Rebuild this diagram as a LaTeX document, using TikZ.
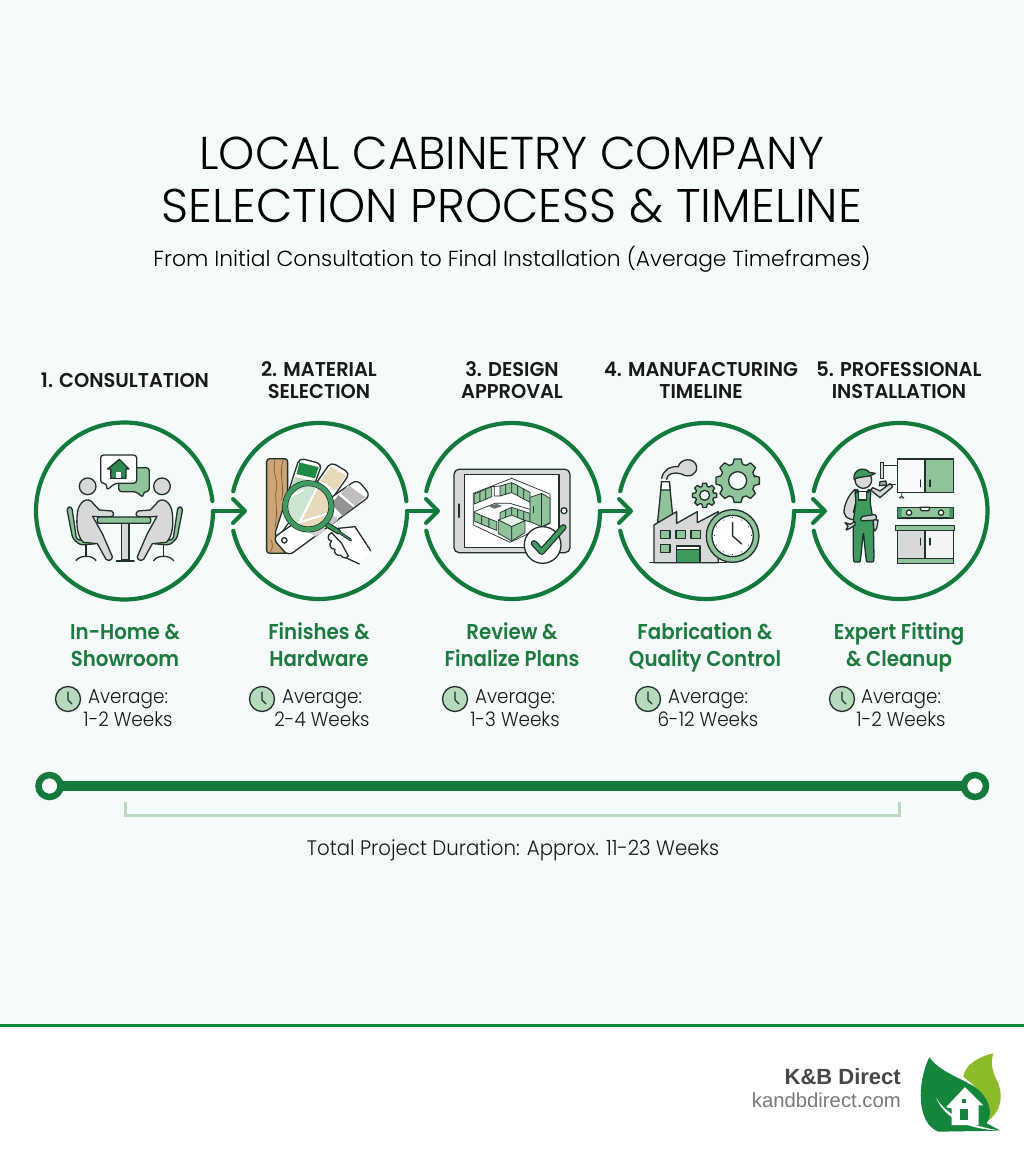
\documentclass[tikz,border=0pt]{standalone}
\usepackage{fontspec}
\usetikzlibrary{arrows.meta}
\setmainfont{Poppins}
\newfontfamily\lightf{Poppins Light}
\newfontfamily\avgf[FakeStretch=0.92]{Poppins Light}
\newfontfamily\totf[FakeStretch=0.94]{Poppins Light}
\newfontfamily\headf[FakeStretch=0.97]{Poppins SemiBold}
\newfontfamily\subf[FakeStretch=0.92]{Poppins SemiBold}
\newfontfamily\footf{Liberation Sans}
\definecolor{bgc}{HTML}{F5FAFB}
\definecolor{gdark}{HTML}{147A3C}
\definecolor{gtext}{HTML}{1E7B40}
\definecolor{gmid}{HTML}{8FC49A}
\definecolor{gsoft}{HTML}{B7D9BC}
\definecolor{gvivid}{HTML}{1C8A45}
\definecolor{greyf}{HTML}{D6D9D7}
\definecolor{ink}{HTML}{20302A}
\definecolor{wood}{HTML}{C9A577}
\definecolor{beige}{HTML}{E6DABA}
\definecolor{brack}{HTML}{BAD9C0}
\definecolor{leaf}{HTML}{14853B}
\definecolor{lime}{HTML}{8CBB2A}
\definecolor{overall}{HTML}{3E9A5E}
\tikzset{
  ring/.style={draw=gdark,line width=4.2pt,line cap=round},
  flowarrow/.style={draw=gdark,line width=4pt,line cap=round,-{Straight Barb[length=12pt,width=24pt,line width=4pt,round]}},
  head/.style={font=\headf\fontsize{20}{22}\selectfont,text=black!90,align=center},
  sub/.style={font=\subf\fontsize{21.5}{27}\selectfont,text=gtext,align=center},
  avg/.style={font=\avgf\fontsize{20}{23}\selectfont,text=black!90,align=center},
  clockic/.style={draw=ink,line width=1.3pt,fill=gsoft,circle,minimum size=25pt,inner sep=0pt},
  ic/.style 2 args={x=0.3333pt,y=-0.3333pt,shift={(#1pt,-#2pt)}},
  ln/.style={draw=ink,line width=1.3pt,line join=round,line cap=round},
  thin ln/.style={draw=ink,line width=0.7pt,line join=round,line cap=round},
}
\newcommand{\cogwheel}[7]{% cx cy tip root hole teeth fill
  \begin{scope}[shift={(#1,#2)}]
    \path[ln,fill=#7,even odd rule] (-12:#4)
      \foreach \i [evaluate=\i as \a using \i*360/#6] in {0,...,\numexpr#6-1\relax}
        { -- (\a-360/#6*0.36:#4) -- (\a-360/#6*0.2:#3) -- (\a+360/#6*0.2:#3) -- (\a+360/#6*0.36:#4) }
      -- cycle (0,0) circle (#5);
  \end{scope}}
\newcommand{\sitter}{%
  % chair
  \path[ln,fill=gmid,rounded corners=3pt] (20,188) -- (35,184) -- (50,285) -- (112,283) -- (112,296) -- (60,300) -- (38,280) -- cycle;
  \draw[ln] (78,300) -- (78,334);
  \draw[ln] (48,347) .. controls (55,337) and (68,334) .. (78,334) .. controls (90,334) and (102,337) .. (108,347);
  % person
  \path[ln,fill=greyf] (52,205) .. controls (55,170) and (85,150) .. (102,178)
     -- (118,195) -- (155,198) .. controls (164,205) and (162,214) .. (152,215) -- (112,215) -- (98,214)
     -- (128,268) -- (157,335) .. controls (157,347) and (145,348) .. (138,343)
     -- (112,296) -- (70,292) .. controls (52,275) and (48,240) .. (52,205) -- cycle;
  \path[ln,fill=greyf] (83,124) circle (25);
}
\begin{document}
\begin{tikzpicture}[x=1pt,y=-1pt]
\useasboundingbox (0,0) rectangle (1024,1154);
\fill[bgc] (0,0) rectangle (1024,1025);
\fill[white] (0,1025) rectangle (1024,1154);
\fill[gdark!90!green] (0,1024) rectangle (1024,1027);

% Title
\node (t1) at (512,153) {\resizebox{625pt}{!}{\lightf\fontsize{46}{46}\selectfont LOCAL CABINETRY COMPANY}};
\node (t2) at (512,206) {\resizebox{700pt}{!}{\lightf\fontsize{46}{46}\selectfont SELECTION PROCESS \& TIMELINE}};
\node (t3) at (512,259) {\resizebox{717pt}{!}{\lightf\fontsize{23}{23}\selectfont From Initial Consultation to Final Installation (Average Timeframes)}};

% Step headers
\node[head] (h1) at (125,380) {1. CONSULTATION};
\node[head] (h2) at (319,380) {2. MATERIAL\\SELECTION};
\node[head] (h3) at (512,380) {3. DESIGN\\APPROVAL};
\node[head] (h4) at (701,380) {4. MANUFACTURING\\TIMELINE};
\node[head] (h5) at (899,380) {5. PROFESSIONAL\\INSTALLATION};

% Rings
\draw[ring] (124.5,511) ++(0:88.5) arc (0:353.5:88.5);
\draw[ring] (319,511) ++(0:88) arc (0:167:88);
\draw[ring] (319,511) ++(193:88) arc (193:353.5:88);
\draw[ring] (512,511) ++(0:88) arc (0:167:88);
\draw[ring] (512,511) ++(193:88) arc (193:353.5:88);
\draw[ring] (706,511) ++(0:88) arc (0:167:88);
\draw[ring] (706,511) ++(193:88) arc (193:353.5:88);
\draw[ring] (899.5,511) ++(193:88) arc (193:527:88);

% Flow arrows
\coordinate (s1) at (213,511); \coordinate (e1) at (247,511);
\coordinate (s2) at (407,511); \coordinate (e2) at (440,511);
\coordinate (s3) at (600,511); \coordinate (e3) at (633,511);
\coordinate (s4) at (794,511); \coordinate (e4) at (827,511);
\draw[flowarrow] (s1) -- (e1);
\draw[flowarrow] (s2) -- (e2);
\draw[flowarrow] (s3) -- (e3);
\draw[flowarrow] (s4) -- (e4);

% ICON 1
\begin{scope}[ic={60}{445}]
  \sitter
  \begin{scope}[shift={(389,0)},xscale=-1]\sitter\end{scope}
  \path[ln,fill=greyf] (185,235) rectangle (207,345);
  \draw[ln,line width=1.8pt] (170,347) -- (222,347);
  \path[ln,fill=gmid,rounded corners=2pt] (112,216) rectangle (272,235);
  % bubbles
  \path[ln,fill=gmid,rounded corners=3pt] (176,100) -- (176,68) -- (268,68) -- (268,140) -- (250,140) -- (250,158) -- (228,140) -- (176,140) -- cycle;
  \path[ln,fill=white,rounded corners=3pt] (122,30) -- (230,30) -- (230,115) -- (165,115) -- (140,136) -- (140,115) -- (122,115) -- cycle;
  \path[ln,fill=gdark!80!gmid] (143,72) -- (178,43) -- (207,72) -- (198,72) -- (198,100) -- (152,100) -- (152,72) -- cycle;
  \fill[white] (168,80) rectangle (183,100);
\end{scope}

% ICON 2
\begin{scope}[ic={20}{410}]
  \path[ln,fill=wood,rounded corners=3pt] (740,146) rectangle (803,430);
  \draw[thin ln,draw=brown!70!black] (765,150) .. controls (755,190) and (778,215) .. (768,245) .. controls (765,270) and (775,310) .. (765,350);
  \draw[thin ln,draw=brown!70!black] (790,150) .. controls (775,190) and (795,225) .. (785,270);
  \draw[thin ln,draw=brown!70!black] (752,390) .. controls (760,400) and (758,415) .. (752,425);
  \path[ln,fill=white,rounded corners=5pt] (838,144) -- (906,162) -- (815,410) -- (762,380) -- cycle;
  \fill[gvivid] (838,157) -- (896,172) -- (885,205) -- (830,192) -- cycle;
  \fill[gsoft] (826,200) -- (880,215) -- (870,245) -- (815,228) -- cycle;
  \path[ln,fill=white,rounded corners=5pt] (933,156) -- (990,190) -- (825,425) -- (770,390) -- cycle;
  \fill[beige] (932,170) -- (978,197) -- (948,242) -- (903,212) -- cycle;
  \path[ln,fill=white,rounded corners=6pt] (1012,208) -- (1052,257) -- (805,438) -- (758,385) -- cycle;
  \fill[gray!50] (985,225) -- (1035,262) -- (1005,288) -- (962,250) -- cycle;
  \fill[gray!85] (955,255) -- (1000,292) -- (968,318) -- (935,282) -- cycle;
  \fill[gray!45] (930,310) -- (955,328) -- (925,352) -- (905,335) -- cycle;
  \fill[gray!35] (895,345) -- (918,360) -- (885,380) -- (865,365) -- cycle;
  \path[ln,fill=white] (793,391) circle (8);
  % hand back
  \fill[white] (955,355) -- (1005,350) -- (1052,422) -- (1018,462) -- (960,440) -- (925,385) -- cycle;
  \draw[ln] (955,355) -- (1005,350) -- (1052,422);
  \draw[ln] (975,442) -- (1018,462);
  % handle
  \draw[ink,line width=5.5pt,line cap=round] (922,345) -- (955,365);
  \draw[ink,line width=2.8pt,line cap=round] (955,365) -- (992,390);
  \draw[gvivid!80!gmid,line width=3.2pt,line cap=round] (922,345) -- (955,365);
  \draw[gvivid!80!gmid,line width=1pt,line cap=round] (955,365) -- (992,390);
  % fingers
  \path[ln,fill=white] (935,368) .. controls (920,375) and (922,392) .. (935,393) .. controls (925,402) and (930,418) .. (945,418) .. controls (940,428) and (950,438) .. (962,436) .. controls (970,446) and (980,445) .. (985,438) -- (965,400) -- cycle;
  % lens
  \path[fill=gsoft!70!white] (865,289) circle (69);
  \begin{scope}
    \clip (865,289) circle (69);
    \fill[beige] (905,215) -- (1000,300) -- (880,400) -- (828,365) -- cycle;
    \fill[gray!40] (925,300) -- (960,260) -- (960,340) -- cycle;
    \draw[white,line width=2pt] (900,215) -- (825,365);
    \draw[white,line width=2pt] (790,270) -- (850,240);
    \draw[white,line width=2pt] (830,340) -- (925,310);
  \end{scope}
  \draw[ink,line width=1pt] (865,289) circle (77);
  \draw[ink,line width=1pt] (865,289) circle (62);
  \draw[overall,line width=4.5pt] (865,289) circle (69.5);
\end{scope}

% ICON 3
\begin{scope}[ic={410}{410}]
  \path[ln,fill=greyf,rounded corners=5pt] (132,178) rectangle (480,428);
  \path[ln,fill=white] (163,193) rectangle (447,412);
  \draw[ln] (147,282) -- (147,322);
  \path[ln,fill=white] (462,302) circle (9);
\end{scope}
\begin{scope}[ic={465}{470}]
  % kitchen
  \draw[thin ln] (25,70) -- (140,25) -- (255,72) -- (255,160) -- (135,217) -- (25,165) -- cycle;
  \foreach \a/\b/\c/\d in {28/72/45/65,45/65/62/58,62/58/80/50,105/48/122/43,122/43/140/38,140/38/158/47,158/47/176/57,176/57/195/67}{
    \path[thin ln,fill=gmid] (\a,\b) -- (\c,\d) -- (\c,\d+30) -- (\a,\b+30) -- cycle;}
  \draw[thin ln] (80,50) -- (105,48) (88,50) -- (88,78) -- (105,78);
  \draw[thin ln] (28,125) -- (90,100) -- (135,100) -- (195,118);
  \foreach \a/\b/\c/\d in {28/127/50/137,50/137/72/146,72/146/95/155,105/128/122/120,122/120/140/112,140/112/158/118,158/118/176/124,176/124/195/130}{
    \path[thin ln,fill=gmid] (\a,\b) -- (\c,\d) -- (\c,\d+26) -- (\a,\b+26) -- cycle;}
  \fill[ink!70] (70,108) -- (95,102) -- (112,108) -- (88,116) -- cycle;
  \path[thin ln,fill=gmid] (195,82) -- (230,70) -- (255,85) -- (255,158) -- (230,170) -- (195,155) -- cycle;
  \draw[thin ln] (230,70) -- (230,170) (205,110) -- (205,128);
  \path[thin ln,fill=gmid!25!white] (100,150) -- (140,135) -- (180,152) -- (140,170) -- cycle;
  \path[thin ln,fill=gmid] (100,150) -- (140,170) -- (140,213) -- (100,190) -- cycle;
  \path[thin ln,fill=gmid] (140,170) -- (180,152) -- (180,188) -- (140,213) -- cycle;
\end{scope}
\begin{scope}[ic={410}{410}]
  % badge
  \path[ln,fill=white] (398,405) circle (55);
  \draw[ink,line width=6.5pt,line cap=round,line join=round] (372,400) -- (395,425) -- (460,352);
  \draw[overall,line width=4pt,line cap=round,line join=round] (372,400) -- (395,425) -- (460,352);
\end{scope}

% ICON 4
\begin{scope}[ic={410}{410}]
  \path[ln,fill=greyf] (755,205) .. controls (760,180) and (780,168) .. (805,170) .. controls (810,145) and (855,140) .. (860,170) .. controls (862,195) and (835,205) .. (815,192) .. controls (795,185) and (770,190) .. (770,208);
  \path[ln,fill=gmid] (755,215) -- (778,215) -- (790,335) -- (743,335) -- cycle;
  \path[ln,fill=white] (752.5,240) -- (780.5,240) -- (778,215) -- (755,215) -- cycle;
  \path[ln,fill=greyf] (732,458) -- (732,345) -- (800,305) -- (800,340) -- (862,305) -- (862,338) -- (925,305) -- (925,458) -- cycle;
  \foreach \a/\b in {752/362,798/362,843/362,752/403}{
    \path[ln,fill=gmid] (\a,\b) rectangle ++(28,24);}
  \path[ln,fill=white] (800,408) rectangle (870,418);
  \path[ln,fill=overall] (800,418) rectangle (870,458);
  \draw[ln,line width=1.6pt] (720,458) -- (950,458);
  \cogwheel{983}{212}{66}{52}{27}{8}{gmid}
  \cogwheel{884}{256}{37}{28}{15}{8}{gmid}
  % clock
  \path[ln,fill=gmid] (968,378) circle (79);
  \path[ln,fill=white] (968,378) circle (62);
  \foreach \a in {0,30,...,330}{\draw[ink,line width=1pt] (\a:54)++(968,378) -- ++(\a:2);}
  \draw[ink,line width=1.4pt,line cap=round,line join=round] (968,338) -- (968,378) -- (995,402);
\end{scope}

% ICON 5
\begin{scope}[ic={790}{410}]
  % wall cabinet
  \path[ln,fill=white!85!greyf] (322,147) rectangle (405,247);
  \path[ln,fill=gmid] (405,147) rectangle (490,247);
  \draw[ln] (392,210) -- (392,230) (420,210) -- (420,230);
  \path[thin ln,fill=greyf] (335,247) -- (335,258) -- (342,264) -- (328,264) -- (335,258);
  % level
  \path[ln,fill=gmid] (322,292) rectangle (490,324);
  \fill[overall] (323,293) rectangle (335,323) (478,293) rectangle (489,323);
  \path[ln,fill=white] (390,292) -- (394,302) -- (416,302) -- (420,292) -- cycle;
  \path[ln,fill=white] (357,308) circle (8);
  \path[ln,fill=white] (453,308) circle (8);
  % base cabinet
  \path[ln,fill=greyf] (322,361) rectangle (405,445);
  \path[ln,fill=white!70!greyf] (405,361) rectangle (490,445);
  \path[ln,fill=gmid] (317,347) rectangle (494,361);
  \path[ln,fill=gmid] (322,445) rectangle (490,460);
  \draw[ln] (392,385) -- (392,405) (420,385) -- (420,405);
\end{scope}
\begin{scope}[ic={840}{455}]
  % drill
  \path[thin ln,fill=greyf] (122,22) rectangle (131,70);
  \draw[ln] (131,32) -- (172,32);
  \path[ln,fill=gray!70] (118,92) -- (120,80) -- (138,78) -- (140,90) -- cycle;
  % raised arm
  \path[ln,fill=greyf] (92,105) -- (120,128) -- (158,95) -- (150,86) -- (120,108) -- (98,98) -- cycle;
  \draw[ln] (150,88) -- (166,88);
  % left arm
  \path[ln,fill=greyf] (45,103) .. controls (25,120) and (12,150) .. (12,172) .. controls (14,192) and (40,198) .. (72,195) -- (72,180) -- (40,172) -- (48,140) -- cycle;
  % overalls
  \path[ln,fill=overall,rounded corners=3pt] (45,105) -- (52,105) -- (53,112) -- (83,112) -- (86,105) -- (93,105) -- (90,140) -- (100,200) -- (102,310) .. controls (100,322) and (80,322) .. (78,310) -- (70,230) -- (62,310) .. controls (60,322) and (42,322) .. (40,310) -- (40,200) -- (48,140) -- cycle;
  \path[ln,fill=white!70!greyf] (55,110) rectangle (80,135);
  % belt and tools
  \path[ln,fill=greyf!80!gmid,rounded corners=2pt] (62,185) -- (108,178) -- (110,195) -- (62,198) -- cycle;
  \path[ln,fill=greyf] (100,195) -- (114,195) .. controls (112,218) and (108,228) .. (102,228) -- cycle;
  \path[ln,fill=greyf] (15,203) -- (30,208) -- (45,200) -- (45,210) -- (30,220) -- (18,225) -- (24,214) -- cycle;
  % head and cap
  \path[ln,fill=greyf] (70,75) circle (25);
  \path[ln,fill=overall] (42,72) .. controls (38,45) and (72,32) .. (88,52) -- (106,55) -- (92,62) -- (55,68) -- cycle;
\end{scope}

% Sublabels
\node[sub] (d1) at (125,648) {\strut In-Home \&\\\strut Showroom};
\node[sub] (d2) at (319,648) {\strut Finishes \&\\\strut Hardware};
\node[sub] (d3) at (512,648) {\strut Review \&\\\strut Finalize Plans};
\node[sub] (d4) at (705,648) {\strut Fabrication \&\\\strut Quality Control};
\node[sub] (d5) at (899,648) {\strut Expert Fitting\\\strut \& Cleanup};

% Average durations
\foreach \n/\cx/\tx/\w in {1/68/128/1-2,2/262/322/2-4,3/455/515/1-3,4/648/708/6-12,5/842/901/1-2}{
  \node[clockic] (k\n) at (\cx,699) {};
  \draw[ink,line width=1.2pt,line cap=round,line join=round] (\cx,692) -- (\cx,700) -- (\cx+4,704);
  \node[avg] (a\n) at (\tx,708.5) {Average:\\\w{} Weeks};
}

% Timeline
\node[circle,draw=gdark,line width=6.5pt,fill=white,minimum size=22pt,inner sep=0pt,outer sep=0pt] (tl) at (49.5,786) {};
\node[circle,draw=gdark,line width=6.5pt,fill=white,minimum size=22pt,inner sep=0pt,outer sep=0pt] (tr) at (975,786) {};
\draw[gdark,line width=10pt] (tl) -- (tr);
\coordinate (b1) at (125,802); \coordinate (b2) at (899,802);
\draw[brack,line width=3pt] (b1) -- ++(0,13) -| (b2);
\node[font=\totf\fontsize{21}{21}\selectfont,text=black!90] (total) at (513,850) {Total Project Duration: Approx. 11-23 Weeks};

% Footer
\node[anchor=east,inner sep=0pt,font=\footf\bfseries\fontsize{22}{22}\selectfont,text=black!72] (brand) at (901,1077) {K\&B Direct};
\node[anchor=east,inner sep=0pt,font=\footf\fontsize{20.3}{20.3}\selectfont,text=black!52] (url) at (901,1100) {kandbdirect.com};

% Logo
\begin{scope}[ic={730}{1020}]
  \fill[lime] (790,100) .. controls (745,110) and (705,135) .. (700,170) .. controls (740,200) and (790,250) .. (770,305) .. controls (810,280) and (825,230) .. (800,180) .. controls (785,150) and (782,125) .. (790,100) -- cycle;
  \fill[leaf] (598,112) .. controls (625,150) and (680,170) .. (715,190) .. controls (770,215) and (795,275) .. (770,310) -- (812,332) -- (625,335) .. controls (560,310) and (560,190) .. (598,112) -- cycle;
  \fill[white] (618,232) .. controls (650,290) and (730,320) .. (812,332) .. controls (720,328) and (645,300) .. (618,232) -- cycle;
  \fill[white] (648,262) -- (705,201) -- (760,256) -- (746,256) -- (746,315) -- (665,315) -- (665,265) -- cycle;
  \fill[leaf] (695,236) rectangle (708,250);
  \fill[leaf] (690,267) rectangle (715,300);
\end{scope}
\end{tikzpicture}
\end{document}
